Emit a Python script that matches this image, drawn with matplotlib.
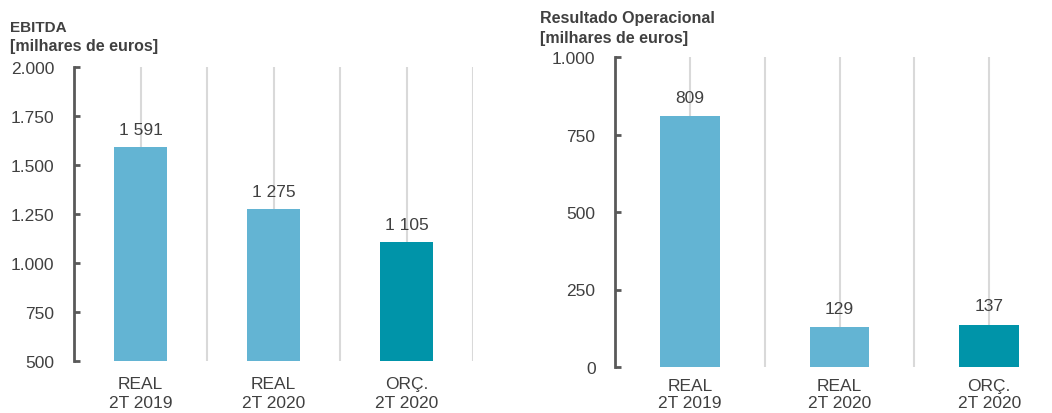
import matplotlib
matplotlib.use("Agg")
import matplotlib.pyplot as plt
from matplotlib.ticker import FuncFormatter, FixedLocator

plt.rcParams['font.family'] = ['Liberation Sans', 'DejaVu Sans']

categories = ["REAL\n2T 2019", "REAL\n2T 2020", "ORÇ.\n2T 2020"]
ebitda = [1591, 1275, 1105]
resultado = [809, 129, 137]
colors = ["#63B4D3", "#63B4D3", "#0094A9"]

ebitda_ticks = [500, 750, 1000, 1250, 1500, 1750, 2000]
resultado_ticks = [0, 250, 500, 750, 1000]

TXT = "#404040"
W, H = 1052, 414
fig = plt.figure(figsize=(W / 100, H / 100), dpi=100)


def dot_fmt(v, _):
    return f"{int(v):,}".replace(",", ".")


def space_fmt(v):
    return f"{int(v):,}".replace(",", " ")


def panel(rect, values, ticks, ylim, label_off, xpad, xls):
    ax = fig.add_axes(rect)
    x = list(range(len(values)))
    ax.bar(x, values, width=0.4, color=colors, zorder=3, bottom=0)
    ax.set_xlim(-0.5, 2.5)
    ax.set_ylim(*ylim)
    ax.xaxis.set_minor_locator(FixedLocator([0.5, 1.5, 2.5]))
    ax.set_xticks(x)
    ax.set_xticklabels(categories, fontsize=12.5, color=TXT, linespacing=xls)
    ax.tick_params(axis='x', which='both', length=0, pad=xpad)
    ax.grid(axis='x', which='both', color="#D9D9D9", linewidth=1.5, zorder=0)
    ax.set_yticks(ticks)
    ax.yaxis.set_major_formatter(FuncFormatter(dot_fmt))
    ax.tick_params(axis='y', direction='in', length=4, width=2, color="#595959",
                   labelsize=12.5, labelcolor=TXT, pad=14)
    for s in ['top', 'right', 'bottom']:
        ax.spines[s].set_visible(False)
    ax.spines['left'].set_color("#595959")
    ax.spines['left'].set_linewidth(2)
    for xi, v in zip(x, values):
        ax.annotate(space_fmt(v), (xi, v), xytext=(0, label_off), textcoords='offset pixels',
                    ha='center', va='center', fontsize=12.5, color=TXT, zorder=4)
    return ax


# left panel
l, r, b, t = 74, 473, 362, 68
ax1 = panel([l / W, (H - b) / H, (r - l) / W, (b - t) / H], ebitda, ebitda_ticks, (500, 2000), 18, 11, 1.3)
fig.text(10 / W, 1 - 28 / H, "EBITDA", fontsize=11, fontweight='bold', color=TXT, va='center', ha='left')
fig.text(10 / W, 1 - 47 / H, "[milhares de euros]", fontsize=11.5, fontweight='bold', color=TXT, va='center', ha='left')

# right panel
l, r, b, t = 615, 1064, 368, 58
ax2 = panel([l / W, (H - b) / H, (r - l) / W, (b - t) / H], resultado, resultado_ticks, (0, 1000), 19, 8, 1.15)
fig.text(540 / W, 1 - 19 / H, "Resultado Operacional", fontsize=11.5, fontweight='bold', color=TXT, va='center', ha='left')
fig.text(540 / W, 1 - 38 / H, "[milhares de euros]", fontsize=11.5, fontweight='bold', color=TXT, va='center', ha='left')

fig.savefig("out.png", dpi=100)
